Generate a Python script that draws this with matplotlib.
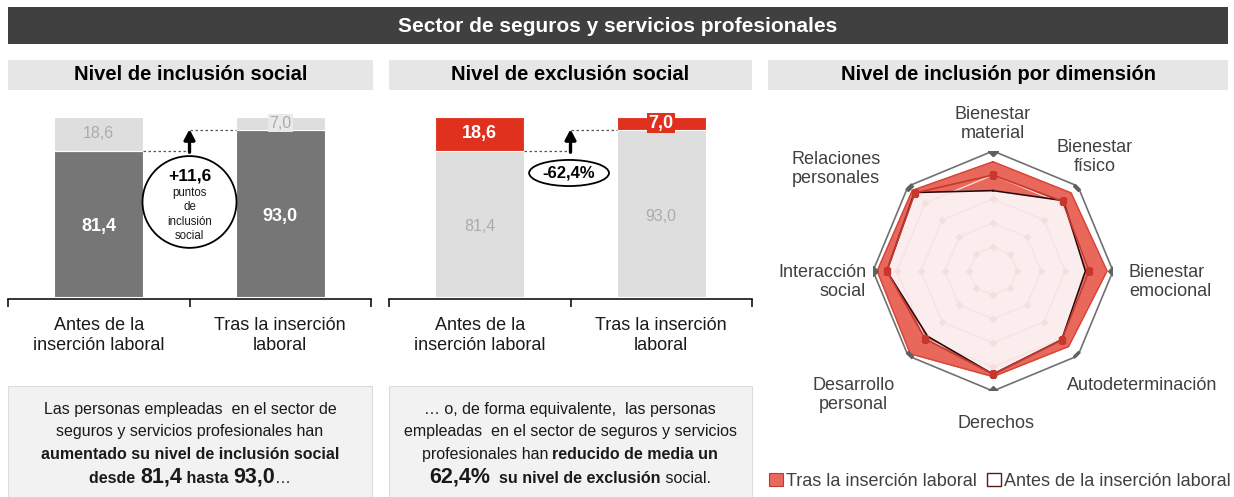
import matplotlib

matplotlib.use("Agg")
import matplotlib.pyplot as plt
import numpy as np
from matplotlib.patches import Ellipse, Patch, Rectangle

plt.rcParams["font.family"] = ["Liberation Sans", "DejaVu Sans"]

W, H = 1234, 497

# --- data ---
titulo = "Sector de seguros y servicios profesionales"
subtitulos = ["Nivel de inclusión social", "Nivel de exclusión social", "Nivel de inclusión por dimensión"]
categorias = ["Antes de la\ninserción laboral", "Tras la inserción\nlaboral"]
inclusion = [81.4, 93.0]
exclusion = [18.6, 7.0]
dif_puntos = "+11,6"
dif_pct = "-62,4%"

dimensiones = ["Bienestar\nmaterial", "Bienestar\nfísico", "Bienestar\nemocional", "Autodeterminación",
               "Derechos", "Desarrollo\npersonal", "Interacción\nsocial", "Relaciones\npersonales"]
tras = [91, 92, 95, 89, 88, 97.5, 96.5, 95]
antes = [67, 83, 77, 81, 86, 77, 88.5, 92.5]
media = [80, 82, 80, 81, 86, 80, 88.5, 92]
maximo = [100] * 8
anillos = [20, 40, 60, 80]

GRIS_OSC = "#767676"
GRIS_CLARO = "#dedede"
ROJO = "#e0301e"
ROJO_RADAR = "#e8695c"


def fx(px):
    return px / W


def fy(py):
    return 1 - py / H


def fmt(v):
    return f"{v:.1f}".replace(".", ",")


fig = plt.figure(figsize=(W / 100, H / 100), dpi=100)

# --- header bars ---
fig.add_artist(Rectangle((fx(8), fy(44)), fx(1220), 37 / H, transform=fig.transFigure,
                         fc="#404040", ec="none"))
fig.text(fx(618), fy(26), titulo, color="white", fontsize=15, fontweight="bold",
         ha="center", va="center")
for (x0, x1), txt in zip([(8, 373), (389, 752), (768, 1228)], subtitulos):
    fig.add_artist(Rectangle((fx(x0), fy(90)), fx(x1 - x0), 30 / H, transform=fig.transFigure,
                             fc="#e6e6e6", ec="none"))
    fig.text(fx((x0 + x1) / 2), fy(75), txt, fontsize=14.5, fontweight="bold",
             ha="center", va="center", color="black")


def barras(x0, base, top, c_base, c_top):
    ax = fig.add_axes([fx(x0), fy(299), fx(363), 189 / H])
    x = np.arange(len(base))
    ax.bar(x, base, width=0.49, color=c_base, edgecolor="white", linewidth=0.8)
    ax.bar(x, top, bottom=base, width=0.49, color=c_top, edgecolor="white", linewidth=0.8)
    ax.set_xlim(-0.5, 1.5)
    ax.set_ylim(-1.1, 103.9)
    for s in ["top", "left", "right"]:
        ax.spines[s].set_visible(False)
    ax.spines["bottom"].set_linewidth(1.1)
    ax.set_yticks([])
    ax.set_xticks(x, categorias)
    ax.tick_params(axis="x", which="major", length=0, pad=13, labelsize=13, labelcolor="#1a1a1a")
    ax.set_xticks([-0.5, 0.5, 1.5], minor=True)
    ax.tick_params(axis="x", which="minor", length=6, width=1.1, color="black")
    ax.patch.set_alpha(0)
    # connectors + arrow
    ax.plot([0.245, 0.5], [base[0], base[0]], ls=(0, (2, 2)), color="#555555", lw=0.9)
    ax.plot([0.5, 0.755], [base[1], base[1]], ls=(0, (2, 2)), color="#555555", lw=0.9)
    ax.annotate("", xy=(0.5, base[1] + 0.2), xytext=(0.5, base[0] - 1),
                arrowprops=dict(arrowstyle="-|>,head_width=0.32,head_length=0.6", lw=2.4,
                                color="black", shrinkA=0, shrinkB=0), zorder=6)
    return ax


# --- inclusion chart ---
ax1 = barras(8, inclusion, exclusion, GRIS_OSC, GRIS_CLARO)
for i, (b, t) in enumerate(zip(inclusion, exclusion)):
    ax1.text(i, b / 2 - 1.5, fmt(b), color="white", fontsize=13, fontweight="bold",
             ha="center", va="center")
    ax1.text(i, b + t / 2, fmt(t), color="#ababab", fontsize=11.5, ha="center", va="center",
             bbox=dict(fc="#e9e9e9", ec="none", pad=1) if t < 10 else None)
ax1.add_patch(Ellipse((0.5, 52.8), 0.518, 51, fc="white", ec="black", lw=1.3, zorder=4))
ax1.text(0.5, 67.2, dif_puntos, fontsize=12.5, fontweight="bold", ha="center", va="center", zorder=5)
ax1.text(0.5, 45.8, "puntos\nde\ninclusión\nsocial", fontsize=8.3, ha="center", va="center",
         linespacing=1.25, color="#1a1a1a", zorder=5)

# --- exclusion chart ---
ax2 = barras(389, inclusion, exclusion, GRIS_CLARO, ROJO)
for i, (b, t) in enumerate(zip(inclusion, exclusion)):
    ax2.text(i, b / 2 - 1.5, fmt(b), color="#ababab", fontsize=11.5, ha="center", va="center")
    ax2.text(i, b + t / 2, fmt(t), color="white", fontsize=13, fontweight="bold",
             ha="center", va="center",
             bbox=dict(fc=ROJO, ec="none", pad=1) if t < 10 else None)
ax2.add_patch(Ellipse((0.492, 68.9), 0.44, 14.5, fc="white", ec="black", lw=1.3, zorder=4))
ax2.text(0.492, 68.9, dif_pct, fontsize=12, fontweight="bold", ha="center", va="center", zorder=5)

# --- text boxes ---
for x0, x1 in [(8, 372), (389, 752)]:
    fig.add_artist(Rectangle((fx(x0), fy(500)), fx(x1 - x0), 114 / H, transform=fig.transFigure,
                             fc="#f2f2f2", ec="#dcdcdc", lw=0.8))

R, B, BIG = ("normal", 11.5), ("bold", 11.5), ("bold", 15.5)
texto1 = [
    [("Las personas empleadas  en el sector de", R)],
    [("seguros y servicios profesionales han", R)],
    [("aumentado su nivel de inclusión social", B)],
    [("desde ", B), ("81,4", BIG), (" hasta ", B), ("93,0", BIG), ("…", R)],
]
texto2 = [
    [("… o, de forma equivalente,  las personas", R)],
    [("empleadas  en el sector de seguros y servicios", R)],
    [("profesionales han ", R), ("reducido de media un", B)],
    [("62,4%", BIG), ("  su nivel de exclusión", B), (" social.", R)],
]
renderer = fig.canvas.get_renderer()


def parrafo(cx, lineas, ys):
    for segs, y in zip(lineas, ys):
        objs = [fig.text(0, fy(y), s, fontweight=w, fontsize=sz, color="#1a1a1a",
                         va="baseline", ha="left") for s, (w, sz) in segs]
        anchos = [t.get_window_extent(renderer).width for t in objs]
        x = cx - sum(anchos) / 2
        for t, a in zip(objs, anchos):
            t.set_x(fx(x))
            x += a


ys = [414, 436, 459, 483]
parrafo(190, texto1, ys)
parrafo(570, texto2, ys)

# --- radar ---
axr = fig.add_axes([fx(993 - 120), fy(271 + 120), fx(240), 240 / H], projection="polar")
axr.set_theta_zero_location("N")
axr.set_theta_direction(-1)
ang = np.linspace(0, 2 * np.pi, len(dimensiones), endpoint=False)
cerr = np.append(ang, ang[0])


def cerrar(v):
    return np.append(v, v[0])


axr.fill(cerr, cerrar(tras), color=ROJO_RADAR, zorder=2)
axr.plot(cerr, cerrar(tras), color="#d9453a", lw=1, zorder=2)
axr.fill(cerr, cerrar(antes), color="#fbeded", zorder=3)
axr.plot(cerr, cerrar(antes), color="#2a0808", lw=1.2, zorder=5)
for r in anillos:
    axr.plot(cerr, [r] * len(cerr), color="#f5e2e2", lw=0.9, marker="D", ms=4,
             mfc="#f4dfdf", mec="none", zorder=4)
axr.plot(cerr, cerrar(media), color="#c8372d", lw=1.2, marker="s", ms=4, zorder=6)
axr.plot(cerr, cerrar(maximo), color="#707070", lw=1.2, marker="D", ms=5.5, mfc="#606060",
         mec="#606060", zorder=6)
axr.set_ylim(0, 100)
axr.set_xticks([])
axr.set_yticks([])
axr.grid(False)
axr.spines["polar"].set_visible(False)
axr.patch.set_alpha(0)

# label offsets from each outer vertex (pixels)
offs = [(0, 27, "center"), (17, 29, "center"), (16, -11, "left"), (64, -30, "center"),
        (3, -32, "center"), (-55, -39, "center"), (-7, -11, "right"), (-72, 17, "center")]
for a, lab, (dx, dy, ha) in zip(ang, dimensiones, offs):
    axr.annotate(lab, xy=(a, 100), xytext=(dx, dy), textcoords="offset pixels", ha=ha,
                 va="center", fontsize=13, color="#404040", annotation_clip=False)

fig.legend(handles=[Patch(fc=ROJO_RADAR, ec="#c0392b", lw=0.8), Patch(fc="white", ec="#5a1a1a", lw=1)],
           labels=["Tras la inserción laboral", "Antes de la inserción laboral"],
           loc="center right", bbox_to_anchor=(fx(1234), fy(481)), ncol=2, frameon=False,
           fontsize=13, handlelength=0.75, handleheight=0.75, handletextpad=0.15,
           columnspacing=0.6, labelcolor="#404040", borderaxespad=0, borderpad=0.2)

fig.savefig("out.png", dpi=100)
